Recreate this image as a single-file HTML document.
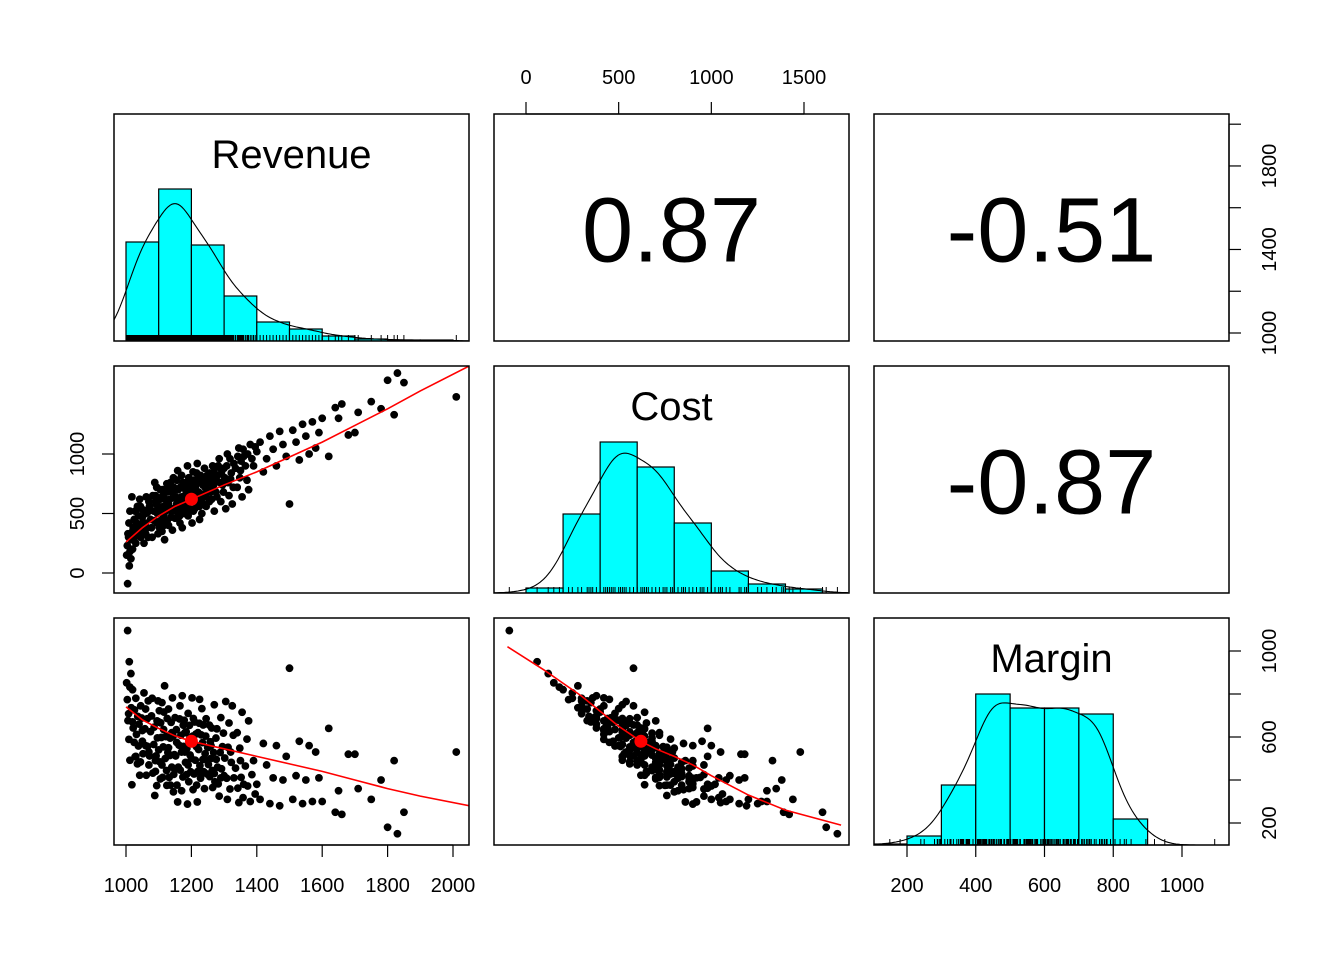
<!DOCTYPE html>
<html><head><meta charset="utf-8"><style>
html,body{margin:0;padding:0;background:#fff}
svg{display:block;font-family:"Liberation Sans",Arial,sans-serif}
</style></head><body>
<svg id="chart" width="1344" height="960" viewBox="0 0 1344 960" xmlns="http://www.w3.org/2000/svg"></svg>
<script>
// ---- data ----
const revenue = [1005,1010,1015,1020,1008,1030,1040,1025,1012,1045,1050,1035,1020,1060,1055,1018,1042,1065,1070,1075,
1080,1085,1090,1095,1100,1105,1110,1115,1120,1125,1130,1135,1140,1145,1150,1088,1098,1118,1128,1138,1148,1108,1092,1132,1142,
1155,1160,1165,1170,1175,1180,1185,1190,1195,1200,1205,1210,1215,1220,1225,1230,1235,1240,1245,1250,1158,1172,1188,1202,1218,1232,1248,
1255,1260,1265,1270,1275,1280,1285,1290,1295,1300,1310,1315,1320,1330,1340,1345,1350,1360,1370,1380,1390,1400,1305,1325,1355,1375,
1410,1420,1430,1440,1450,1460,1470,1480,1490,1500,1510,1520,1530,1540,1550,1560,1570,1580,1590,1600,
1640,1650,1680,1700,1710,1750,1800,1820,1850,2010,1620,1660,1830,1780,
1030,1050,1070,1090,1110,1130,1150,1170,1190,1210,1230,1250,1270,1290,1060,1100,1140,1180,1220,1260,
1002,1004,1006,1009,1012,1016,1022,1026,1028,1032,1036,1038,1044,1048,1052,1058,1062,1066,1068,1072,1078,1082,1086,1094,1096,
1102,1104,1106,1112,1114,1116,1122,1124,1126,1134,1136,1144,1146,1152,1154,1156,1162,1164,1166,1168,1174,1176,1178,1182,1184,
1186,1192,1194,1196,1198,1204,1206,1208,1212,1214,1216,1222,1224,1226,1228,1234,1236,1238,1242,1244,1252,1256,1258,1262,1264,
1268,1272,1276,1278,1282,1288,1292,1298,1302,1308,1312,1318,1322,1328,1335,1342,1348,1352,1358,1365,1372,1385,1395];
const cost = [-90,60,120,200,300,250,380,450,520,300,420,560,350,500,250,640,620,380,600,450,
300,520,650,420,560,700,350,480,620,750,400,540,680,800,460,760,330,280,600,470,630,510,580,720,360,
580,700,420,820,520,650,760,480,600,700,850,540,660,780,450,620,740,880,560,700,860,380,900,420,920,500,820,
600,760,900,520,680,820,960,600,740,880,1000,650,790,920,720,1050,860,980,780,1080,900,1020,540,580,640,700,
1100,850,960,1150,1040,900,1190,1080,980,580,1200,1100,950,1250,1150,1000,1270,1050,1180,1300,
1390,1300,1160,1180,1350,1440,1620,1330,1600,1480,980,1420,1680,1380,
520,470,540,600,640,580,700,640,720,780,800,760,840,880,330,430,520,560,600,700,
150,230,330,420,180,280,380,300,520,420,340,480,560,360,530,420,640,510,300,560,380,650,440,720,500,
380,620,440,700,560,400,520,680,440,620,760,540,720,640,520,780,600,480,720,560,760,620,500,700,560,
640,800,540,680,760,600,520,780,720,600,840,680,560,760,820,660,580,800,720,640,780,840,680,620,820,
740,880,780,640,900,760,840,680,800,900,760,960,840,720,880,980,800,940,1040,900,1000,960,1060];
const margin = revenue.map((r,i)=>r-cost[i]);

const revBins = [1000,1100,1200,1300,1400,1500,1600,1700,1800,1900,2000];
const revCounts = [99,152,96,45,19,12,5,2,1,1];
const costBins = [0,200,400,600,800,1000,1200,1400,1600];
const costCounts = [5,79,151,126,70,22,9,4];
const marBins = [100,200,300,400,500,600,700,800,900];
const marCounts = [1,9,60,151,137,137,131,26];

// loess fit values
const fitRevX = [1000,1050,1100,1150,1200,1300,1400,1500,1600,1700,1800,1900,2050];
const fitCostOnRev = [260,380,480,560,620,740,850,975,1100,1240,1380,1530,1740];
const fitMarOnRev = [740,680,640,605,580,545,510,475,440,400,360,325,280];
const fitCostX = [-100,100,200,300,400,500,620,700,800,900,1000,1200,1400,1700];
const fitMarOnCost = [1020,910,850,790,720,650,580,545,510,470,420,330,260,190];
const corrRC = "0.87", corrRM = "-0.51", corrCM = "-0.87";

// ---- layout ----
const NS="http://www.w3.org/2000/svg";
const svg=document.getElementById('chart');
function mk(tag,attrs,parent){const e=document.createElementNS(NS,tag);for(const k in attrs)e.setAttribute(k,attrs[k]);(parent||svg).appendChild(e);return e;}
const colL=[114,494,874], rowT=[114,366,618], PW=355, PH=227;
const xRev=v=>126+(v-1000)*0.327;
const xCost=v=>526+(v-0)*0.18533;
const xMar=v=>907+(v-200)*0.34375;
const yRev=v=>333-(v-1000)*0.2088;
const yCost=v=>573-(v-0)*0.119;
const yMar=v=>823-(v-200)*0.215;

const defs=mk('defs',{});
for(let r=0;r<3;r++)for(let c=0;c<3;c++){const cp=mk('clipPath',{id:'cp'+r+c},defs);mk('rect',{x:colL[c],y:rowT[r],width:PW,height:PH},cp);}

function histogram(r,c,bins,counts,xf,name,dataArr,sdf){
  const g=mk('g',{'clip-path':'url(#cp'+r+c+')'});
  
  
  const base=rowT[r]+PH;
  for(let i=0;i<counts.length;i++){
    const x0=xf(bins[i]),x1=xf(bins[i+1]);
    const b=mk('rect',{x:x0,y:base-counts[i],width:x1-x0,height:counts[i],fill:'#00ffff',stroke:'#000','stroke-width':1.2},g);
    
    
  }
  const bw=bins[1]-bins[0], sd=bw*sdf;
  let d='';
  for(let px=colL[c];px<=colL[c]+PW;px+=2){
    const v=bins[0]+(px-xf(bins[0]))/(xf(bins[1])-xf(bins[0]))*bw;
    let h=0;for(let i=0;i<counts.length;i++){const ctr=(bins[i]+bins[i+1])/2;const z=(v-ctr)/sd;h+=counts[i]*(bw/sd)*Math.exp(-z*z/2)/Math.sqrt(2*Math.PI);}
    d+=(d?'L':'M')+px+','+(base-h).toFixed(1);
  }
  const dl=mk('path',{d:d,fill:'none',stroke:'#000','stroke-width':1.1},g);
  
  
  let rd='';
  dataArr.forEach(v=>{const x=xf(v);rd+='M'+x.toFixed(1)+','+base+'V'+(base-6);});
  const rug=mk('path',{d:rd,stroke:'#000','stroke-width':1},g);
  
  
}
function scatter(r,c,xa,ya,xf,yf,fx,fy,mx,my,name){
  const g=mk('g',{'clip-path':'url(#cp'+r+c+')'});
  
  
  for(let i=0;i<xa.length;i++){
    const p=mk('circle',{cx:xf(xa[i]),cy:yf(ya[i]),r:3.9,fill:'#000'},g);
    
    
  }
  const l=mk('polyline',{points:fx.map((v,i)=>xf(v)+','+yf(fy[i])).join(' '),fill:'none',stroke:'#ff0000','stroke-width':1.6},g);
  
  
  const m=mk('circle',{cx:xf(mx),cy:yf(my),r:6.5,fill:'#ff0000'},g);
  
  
}
function corr(r,c,txt,name){
  const t=mk('text',{x:colL[c]+PW/2,y:rowT[r]+PH/2+34,'text-anchor':'middle','font-size':92},svg);
  t.textContent=txt;
  
  
}
function label(r,c,txt,name){
  const t=mk('text',{x:colL[c]+PW/2,y:rowT[r]+54,'text-anchor':'middle','font-size':40},svg);
  t.textContent=txt;
  
  
}

histogram(0,0,revBins,revCounts,xRev,'revenue',revenue,0.55);
histogram(1,1,costBins,costCounts,xCost,'cost',cost,0.55);
histogram(2,2,marBins,marCounts,xMar,'margin',margin,0.55);
label(0,0,'Revenue','revenue-label');
label(1,1,'Cost','cost-label');
label(2,2,'Margin','margin-label');
corr(0,1,corrRC,'corr-revenue-cost');
corr(0,2,corrRM,'corr-revenue-margin');
corr(1,2,corrCM,'corr-cost-margin');
scatter(1,0,revenue,cost,xRev,yCost,fitRevX,fitCostOnRev,1200,620,'revenue-cost');
scatter(2,0,revenue,margin,xRev,yMar,fitRevX,fitMarOnRev,1200,580,'revenue-margin');
scatter(2,1,cost,margin,xCost,yMar,fitCostX,fitMarOnCost,620,580,'cost-margin');

for(let r=0;r<3;r++)for(let c=0;c<3;c++){
  const f=mk('rect',{x:colL[c],y:rowT[r],width:PW,height:PH,fill:'none',stroke:'#000','stroke-width':1.5});
  
  
}

function axis(side,ticks,f,pos,name){
  const g=mk('g',{});
  
  
  const p0=f(ticks[0]),p1=f(ticks[ticks.length-1]);
  if(side==='bottom'||side==='top'){
    const dir=side==='bottom'?1:-1;
    mk('line',{x1:p0,x2:p1,y1:pos,y2:pos,stroke:'#000','stroke-width':1.2},g);
    ticks.forEach(v=>{const x=f(v);mk('line',{x1:x,x2:x,y1:pos,y2:pos+12*dir,stroke:'#000','stroke-width':1.2},g);
      const t=mk('text',{x:x,y:side==='bottom'?pos+47:pos-30,'text-anchor':'middle','font-size':20},g);t.textContent=v;
      
      });
  } else {
    const dir=side==='right'?1:-1;
    mk('line',{x1:pos,x2:pos,y1:p0,y2:p1,stroke:'#000','stroke-width':1.2},g);
    ticks.forEach(v=>{const y=f(v);mk('line',{x1:pos,x2:pos+12*dir,y1:y,y2:y,stroke:'#000','stroke-width':1.2},g);});
  }
  return g;
}
function vlabels(g,vals,f,x){
  vals.forEach(v=>{const y=f(v);const t=mk('text',{x:x,y:y,'text-anchor':'middle','font-size':20,transform:'rotate(-90 '+x+' '+y+')'},g);t.textContent=v;
    
    });
}
const revTicks=[1000,1200,1400,1600,1800,2000];
const costTicks=[0,500,1000,1500];
const marTicks=[200,400,600,800,1000];
axis('bottom',revTicks,xRev,845,'x-axis-revenue');
axis('bottom',marTicks,xMar,845,'x-axis-margin');
axis('top',costTicks,xCost,114,'x-axis-cost');
const ga=axis('right',revTicks,yRev,1229,'y-axis-revenue');
vlabels(ga,[1000,1400,1800],yRev,1276);
const gb=axis('left',[0,500,1000],yCost,114,'y-axis-cost');
vlabels(gb,[0,500,1000],yCost,84);
const gc=axis('right',marTicks,yMar,1229,'y-axis-margin');
vlabels(gc,[200,600,1000],yMar,1276);
</script>
</body></html>
